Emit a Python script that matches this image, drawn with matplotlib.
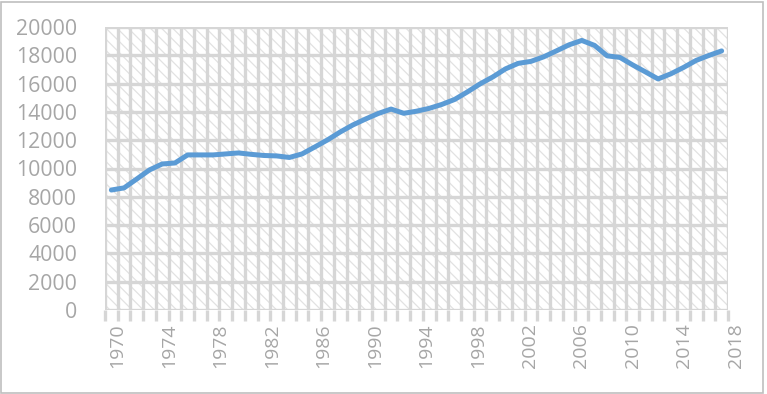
import matplotlib
matplotlib.use("Agg")
import matplotlib.pyplot as plt
from matplotlib.patches import Rectangle
from matplotlib.ticker import FixedLocator
import matplotlib.transforms as mtransforms

years = list(range(1970, 2019))
values = [8480, 8630, 9260, 9900, 10320, 10390, 10960, 10960, 10960, 11030,
          11100, 11000, 10920, 10890, 10780, 11030, 11520, 12020, 12580, 13080,
          13500, 13890, 14200, 13900, 14050, 14250, 14530, 14880, 15410, 15980,
          16470, 17040, 17430, 17570, 17890, 18310, 18740, 19050, 18700, 17960,
          17850, 17320, 16830, 16330, 16690, 17140, 17640, 17990, 18310]
label_years = list(range(1970, 2019, 4))
y_ticks = list(range(0, 20001, 2000))

text_color = "#a6a6a6"
grid_color = "#d6d6d6"
line_color = "#5b9bd5"

plt.rcParams['font.family'] = ['Open Sans', 'DejaVu Sans']
plt.rcParams['hatch.linewidth'] = 0.9

fig = plt.figure(figsize=(7.67, 3.94), dpi=100)
ax = fig.add_axes([105/767, (394-310)/394, (728-105)/767, (310-27)/394])

# hatched plot-area background
bg = Rectangle((0, 0), 1, 1, transform=ax.transAxes, facecolor="white",
               edgecolor="#e2e2e2", hatch="\\\\\\", linewidth=0, zorder=0)
ax.add_patch(bg)

ax.plot(years, values, color=line_color, linewidth=3.6, solid_capstyle="round",
        solid_joinstyle="round", zorder=5)

ax.set_xlim(years[0] - 0.5, years[-1] + 0.5)
ax.set_ylim(0, 20000)

# category boundaries -> vertical gridlines and outside tick marks
bounds = [y - 0.5 for y in years] + [years[-1] + 0.5]
ax.xaxis.set_minor_locator(FixedLocator(bounds))
ax.xaxis.set_major_locator(FixedLocator(label_years))
ax.set_xticklabels([str(y) for y in label_years], rotation=90)
ax.tick_params(axis="x", which="minor", length=8, width=2.4, color=grid_color,
               direction="out")
ax.tick_params(axis="x", which="major", length=0, pad=9.5, labelsize=14,
               labelcolor=text_color)
ax.grid(True, which="minor", axis="x", color=grid_color, linewidth=2.4, zorder=1)
ax.set_axisbelow(True)

# labels sit slightly right of the category centres, increasingly so to the right
for yr, lbl in zip(label_years, ax.get_xticklabels()):
    dx = (6 + (yr - label_years[0]) / 48 * 8) / 100
    lbl.set_transform(lbl.get_transform() +
                      mtransforms.ScaledTranslation(dx, 0, fig.dpi_scale_trans))

ax.yaxis.set_major_locator(FixedLocator(y_ticks))
ax.set_yticklabels([str(v) for v in y_ticks])
ax.tick_params(axis="y", which="major", length=0, pad=20, labelsize=15.3,
               labelcolor=text_color)
ax.grid(True, which="major", axis="y", color=grid_color, linewidth=2.4, zorder=1)

for s in ax.spines.values():
    s.set_visible(False)

# chart-area border
fig.patches.append(Rectangle((1/767, 1/394), 762/767, 391/394,
                             transform=fig.transFigure, fill=False,
                             edgecolor="#bfbfbf", linewidth=1.2))

fig.savefig("out.png", dpi=100)
